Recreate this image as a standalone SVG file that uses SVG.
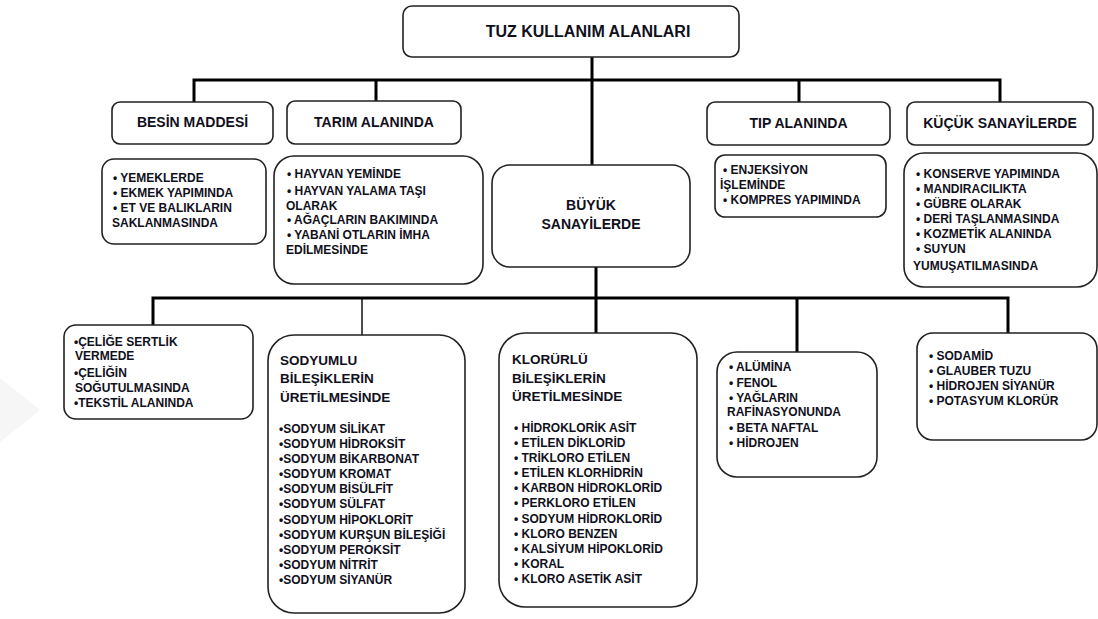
<svg xmlns="http://www.w3.org/2000/svg" width="1098" height="619" viewBox="0 0 1098 619">
<style>
.box{fill:#fff;stroke:#222;stroke-width:1.6}
.con{fill:none;stroke:#000;stroke-width:3}
.thin{fill:none;stroke:#000;stroke-width:1.4}
text{font-family:"Liberation Sans",Arial,sans-serif;font-weight:bold;fill:#10101c}
.t16{font-size:16px}
.h{font-size:14px;text-anchor:middle}
.l{font-size:12px}
.st{font-size:13.5px}
</style>
<rect width="1098" height="619" fill="#fff"/>
<polygon points="0,378 40,410 0,442" fill="#f6f6f6"/>
<g id="connectors">
<path class="con" d="M592 57V165M194 102V80H1000V102M376 80V101M799 80V102"/>
<path class="con" d="M153 325V298H1008V333M596 267V333M797 298V352"/>
<path class="thin" d="M362 298V335"/>
</g>
<g id="root">
<rect class="box" x="403" y="6" width="336" height="51" rx="9"/>
<text class="t16" x="588" y="37" text-anchor="middle">TUZ KULLANIM ALANLARI</text>
</g>
<g id="besin">
<rect class="box" x="112" y="102" width="161" height="42" rx="8"/>
<text class="h" x="192.5" y="127">BESİN MADDESİ</text>
</g>
<g id="tarim">
<rect class="box" x="287" y="101" width="174" height="43" rx="8"/>
<text class="h" x="374" y="127">TARIM ALANINDA</text>
</g>
<g id="tip">
<rect class="box" x="707" y="102" width="183" height="43" rx="8"/>
<text class="h" x="798.5" y="128">TIP ALANINDA</text>
</g>
<g id="kucuk">
<rect class="box" x="907" y="102" width="186" height="43" rx="8"/>
<text class="h" x="1000" y="128">KÜÇÜK SANAYİLERDE</text>
</g>
<g id="besin-list">
<rect class="box" x="102" y="159" width="164" height="85" rx="12"/>
<text class="l"><tspan x="113" y="182">• YEMEKLERDE</tspan><tspan x="113" y="197">• EKMEK YAPIMINDA</tspan><tspan x="113" y="212">• ET VE BALIKLARIN</tspan><tspan x="112" y="227">SAKLANMASINDA</tspan></text>
</g>
<g id="tarim-list">
<rect class="box" x="274" y="156" width="209" height="128" rx="20"/>
<text class="l"><tspan x="287" y="178">• HAYVAN YEMİNDE</tspan><tspan x="287" y="195">• HAYVAN YALAMA TAŞI</tspan><tspan x="286" y="210">OLARAK</tspan><tspan x="287" y="224">• AĞAÇLARIN BAKIMINDA</tspan><tspan x="287" y="239">• YABANİ OTLARIN İMHA</tspan><tspan x="286" y="254">EDİLMESİNDE</tspan></text>
</g>
<g id="buyuk">
<rect class="box" x="492" y="165" width="198" height="102" rx="18"/>
<text class="h"><tspan x="591" y="210">BÜYÜK</tspan><tspan x="591" y="229">SANAYİLERDE</tspan></text>
</g>
<g id="tip-list">
<rect class="box" x="715" y="155" width="171" height="62" rx="10"/>
<text class="l"><tspan x="723" y="174">• ENJEKSİYON</tspan><tspan x="720" y="189">İŞLEMİNDE</tspan><tspan x="723" y="204">• KOMPRES YAPIMINDA</tspan></text>
</g>
<g id="kucuk-list">
<rect class="box" x="904" y="153" width="193" height="134" rx="20"/>
<text class="l"><tspan x="916" y="178">• KONSERVE YAPIMINDA</tspan><tspan x="916" y="193">• MANDIRACILIKTA</tspan><tspan x="916" y="208">• GÜBRE OLARAK</tspan><tspan x="916" y="223">• DERİ TAŞLANMASINDA</tspan><tspan x="916" y="238">• KOZMETİK ALANINDA</tspan><tspan x="916" y="253">•  SUYUN</tspan><tspan x="913" y="270">YUMUŞATILMASINDA</tspan></text>
</g>
<g id="celik">
<rect class="box" x="64" y="325" width="189" height="94" rx="12"/>
<text class="l"><tspan x="74" y="346">•ÇELİĞE SERTLİK</tspan><tspan x="75" y="360">VERMEDE</tspan><tspan x="74" y="377">•ÇELİĞİN</tspan><tspan x="75" y="392">SOĞUTULMASINDA</tspan><tspan x="74" y="407">•TEKSTİL ALANINDA</tspan></text>
</g>
<g id="sodyumlu">
<rect class="box" x="268" y="335" width="197" height="278" rx="26"/>
<text class="st"><tspan x="280" y="365">SODYUMLU</tspan><tspan x="280" y="383">BİLEŞİKLERİN</tspan><tspan x="280" y="402">ÜRETİLMESİNDE</tspan></text>
<text class="l"><tspan x="279" y="433">•SODYUM SİLİKAT</tspan><tspan x="279" y="448">•SODYUM HİDROKSİT</tspan><tspan x="279" y="463">•SODYUM BİKARBONAT</tspan><tspan x="279" y="478">•SODYUM KROMAT</tspan><tspan x="279" y="493">•SODYUM BİSÜLFİT</tspan><tspan x="279" y="508">•SODYUM SÜLFAT</tspan><tspan x="279" y="524">•SODYUM HİPOKLORİT</tspan><tspan x="279" y="539">•SODYUM KURŞUN BİLEŞİĞİ</tspan><tspan x="279" y="554">•SODYUM PEROKSİT</tspan><tspan x="279" y="569">•SODYUM NİTRİT</tspan><tspan x="279" y="584">•SODYUM SİYANÜR</tspan></text>
</g>
<g id="klorurlu">
<rect class="box" x="499" y="333" width="198" height="274" rx="26"/>
<text class="st"><tspan x="512" y="364">KLORÜRLÜ</tspan><tspan x="512" y="383">BİLEŞİKLERİN</tspan><tspan x="512" y="401">ÜRETİLMESİNDE</tspan></text>
<text class="l"><tspan x="514" y="432">• HİDROKLORİK ASİT</tspan><tspan x="514" y="447">• ETİLEN DİKLORİD</tspan><tspan x="514" y="462">• TRİKLORO ETİLEN</tspan><tspan x="514" y="477">• ETİLEN KLORHİDRİN</tspan><tspan x="514" y="492">• KARBON HİDROKLORİD</tspan><tspan x="514" y="507">• PERKLORO ETİLEN</tspan><tspan x="514" y="523">•  SODYUM HİDROKLORİD</tspan><tspan x="514" y="538">• KLORO BENZEN</tspan><tspan x="514" y="553">• KALSİYUM HİPOKLORİD</tspan><tspan x="514" y="568">• KORAL</tspan><tspan x="514" y="583">• KLORO ASETİK ASİT</tspan></text>
</g>
<g id="alumina">
<rect class="box" x="717" y="352" width="160" height="125" rx="20"/>
<text class="l"><tspan x="729" y="371">• ALÜMİNA</tspan><tspan x="729" y="387">• FENOL</tspan><tspan x="729" y="402">• YAĞLARIN</tspan><tspan x="727" y="416">RAFİNASYONUNDA</tspan><tspan x="729" y="432">• BETA NAFTAL</tspan><tspan x="729" y="447">• HİDROJEN</tspan></text>
</g>
<g id="sodamid">
<rect class="box" x="917" y="333" width="180" height="107" rx="16"/>
<text class="l"><tspan x="929" y="360">•  SODAMİD</tspan><tspan x="929" y="375">•  GLAUBER TUZU</tspan><tspan x="929" y="390">•  HİDROJEN  SİYANÜR</tspan><tspan x="929" y="405">•  POTASYUM KLORÜR</tspan></text>
</g>
</svg>
